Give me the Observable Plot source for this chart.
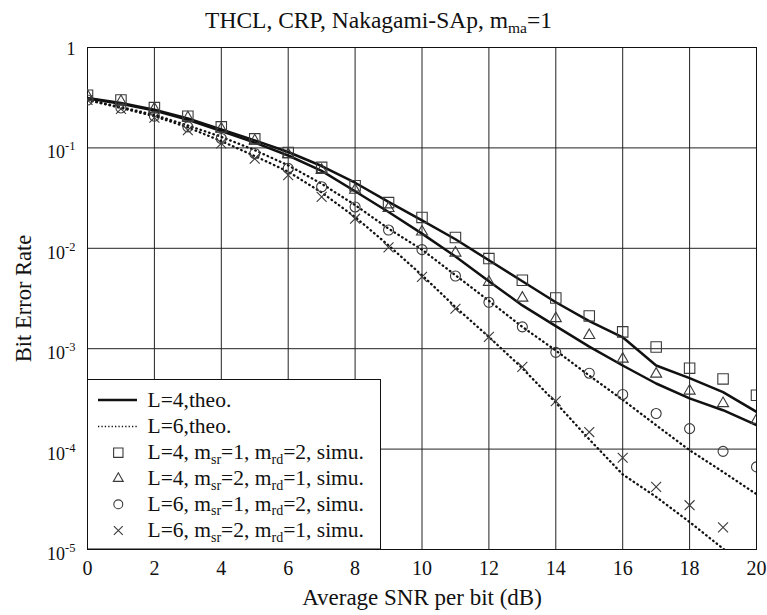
<!DOCTYPE html>
<html><head><meta charset="utf-8">
<script src="https://cdn.jsdelivr.net/npm/d3@7"></script>
<script src="https://cdn.jsdelivr.net/npm/@observablehq/plot@0.6"></script>
<style>
body{margin:0;background:#fff;}
#wrap{position:relative;width:767px;height:615px;font-family:"Liberation Serif","Times New Roman",serif;color:#111;}
#title{position:absolute;left:0;top:8.5px;width:757px;text-align:center;font-size:23.5px;line-height:23px;white-space:nowrap;}
#title sub{font-size:15.5px;vertical-align:-5px;line-height:0;}
#chart{position:absolute;left:0;top:0;}
</style></head>
<body>
<div id="wrap">
  <div id="chart"></div>
  <div id="title">THCL, CRP, Nakagami-SAp, m<sub>ma</sub>=1</div>
</div>
<script>
// ---- data ----
const snr = [0,1,2,3,4,5,6,7,8,9,10,11,12,13,14,15,16,17,18,19,20];
const xTicks = [0,2,4,6,8,10,12,14,16,18,20];
const yTicks = [1e-5,1e-4,1e-3,1e-2,1e-1,1];
const yTickLabels = ["10^-5","10^-4","10^-3","10^-2","10^-1","1"];

// theory curves
const theoL4a = [0.315,0.28,0.24,0.196,0.153,0.119,0.091,0.066,0.045,0.029,0.019,0.0123,0.0076,0.0047,0.0029,0.00188,0.0013,0.00068,0.00051,0.00037,0.000235];
const theoL4b = [0.31,0.275,0.235,0.19,0.147,0.113,0.084,0.059,0.037,0.023,0.0140,0.0083,0.0047,0.0027,0.00168,0.00105,0.00068,0.00045,0.00032,0.000244,0.000173];
const theoL6a = [0.30,0.255,0.213,0.167,0.129,0.095,0.067,0.044,0.027,0.0157,0.0097,0.0054,0.0030,0.00165,0.00096,0.00054,0.00031,0.000173,0.0000975,0.0000593,0.0000356];
const theoL6b = [0.30,0.25,0.207,0.16,0.117,0.083,0.058,0.036,0.0205,0.0107,0.0054,0.0026,0.00131,0.00064,0.00029,0.000125,0.000056,0.0000334,0.0000188,0.0000102,0.0000058];

// simulation points
const simL4a = [0.335,0.30,0.252,0.207,0.162,0.123,0.090,0.064,0.042,0.0285,0.0203,0.0128,0.0079,0.0048,0.0032,0.00212,0.00147,0.00104,0.00064,0.0005,0.000344];
const simL4b = [0.33,0.29,0.245,0.20,0.155,0.118,0.086,0.060,0.038,0.025,0.0146,0.009,0.0046,0.0032,0.002,0.00136,0.00079,0.00056,0.00038,0.000285,0.000194];
const simL6a = [0.30,0.25,0.207,0.162,0.124,0.088,0.0625,0.041,0.0258,0.0152,0.0097,0.0053,0.0029,0.00165,0.00092,0.00057,0.00035,0.000226,0.00016,0.000095,0.0000665];
const simL6b = [0.30,0.245,0.20,0.15,0.111,0.078,0.0536,0.0325,0.0197,0.0102,0.0052,0.0025,0.00131,0.00066,0.0003,0.000148,0.000082,0.000042,0.0000276,0.0000166];

const legendLabels = ["L=4,theo.","L=6,theo.","L=4, m_{sr}=1, m_{rd}=2, simu.","L=4, m_{sr}=2, m_{rd}=1, simu.","L=6, m_{sr}=1, m_{rd}=2, simu.","L=6, m_{sr}=2, m_{rd}=1, simu."];

// ---- styles ----
const FONT = "'Liberation Serif','Times New Roman',serif";
const solidStyle = {stroke:"#111", strokeWidth:2.5};
const dotStyle = {stroke:"#111", strokeWidth:2.3, strokeDasharray:"0.6,3.9", strokeLinecap:"round"};
const markerStroke = "#3a3a3a";
const symbols = [
  {symbol:"square", r:5.9},
  {symbol:"triangle", r:4.1},
  {symbol:"circle", r:5},
  {symbol:"times", r:4.6}
];

const rows = (vals) => vals.map((v,i)=>({snr:snr[i], ber:v}));
const sims = [simL4a, simL4b, simL6a, simL6b];

const chart = Plot.plot({
  width:767, height:615,
  marginTop:47, marginBottom:66, marginLeft:87, marginRight:11,
  style:{fontFamily:FONT, fontSize:"18px", background:"#fff", color:"#111", overflow:"visible"},
  x:{domain:[0,20]},
  y:{type:"log", domain:[1e-5,1]},
  marks:[
    Plot.gridX(xTicks, {stroke:"#222", strokeOpacity:1, strokeWidth:1}),
    Plot.gridY(yTicks, {stroke:"#222", strokeOpacity:1, strokeWidth:1}),
    Plot.frame({stroke:"#111", strokeWidth:1}),
    Plot.axisX(xTicks, {tickSize:0, tickPadding:11, label:null, fontSize:20}),
    Plot.axisY(yTicks, {tickSize:0, tickPadding:12, label:null, fontSize:18,
      tickFormat:(d)=>yTickLabels[yTicks.indexOf(d)]}),
    Plot.line(rows(theoL4a), {x:"snr", y:"ber", ...solidStyle, clip:true}),
    Plot.line(rows(theoL4b), {x:"snr", y:"ber", ...solidStyle, clip:true}),
    Plot.line(rows(theoL6a), {x:"snr", y:"ber", ...dotStyle, clip:true}),
    Plot.line(rows(theoL6b), {x:"snr", y:"ber", ...dotStyle, clip:true}),
    ...sims.map((s,k)=>Plot.dot(rows(s), {x:"snr", y:"ber", symbol:symbols[k].symbol, r:symbols[k].r,
      fill:"none", stroke:markerStroke, strokeWidth:1.1, clip:true})),
    Plot.text(["Bit Error Rate"], {frameAnchor:"left", dx:-64, rotate:-90, textAnchor:"middle", lineAnchor:"middle", fontSize:22.5}),
    Plot.text(["Average SNR per bit (dB)"], {frameAnchor:"bottom", dy:48, textAnchor:"middle", lineAnchor:"middle", fontSize:23})
  ]
});
document.getElementById("chart").appendChild(chart);

// superscript y tick labels
d3.select(chart).selectAll('g[aria-label="y-axis tick label"] text').each(function(){
  const s = this.textContent;
  const m = s.match(/^10\^(.*)$/);
  const t = d3.select(this);
  t.text(null);
  if (m) {
    t.append("tspan").attr("dy","4.7px").text("10");
    t.append("tspan").attr("dy","-8px").attr("font-size","12.5px").text(m[1]);
  } else {
    t.append("tspan").attr("dy","2px").text(s);
  }
});

// legend (inside the plot frame, lower-left)
const svg = d3.select(chart);
const lg = svg.append("g").attr("font-family", FONT).attr("font-size", 21.5).attr("fill","#111").attr("text-anchor","start");
const lx0 = 87, ly0 = 379.5, lx1 = 380.5, ly1 = 549;
lg.append("rect").attr("x",lx0+0.5).attr("y",ly0).attr("width",lx1-lx0-0.5).attr("height",ly1-ly0)
  .attr("fill","#fff").attr("stroke","#111").attr("stroke-width",1);
const rowY = [400,426.5,452.7,478.5,504.3,530.5];
legendLabels.forEach((lab,i)=>{
  const cy = rowY[i];
  if (i===0) lg.append("line").attr("x1",98).attr("x2",137).attr("y1",cy).attr("y2",cy).attr("stroke","#111").attr("stroke-width",2.5);
  else if (i===1) lg.append("line").attr("x1",98).attr("x2",137).attr("y1",cy).attr("y2",cy).attr("stroke","#111").attr("stroke-width",1.5).attr("stroke-dasharray","1.3,2.1");
  else {
    const sy = symbols[i-2];
    const sym = {square:d3.symbolSquare, triangle:d3.symbolTriangle, circle:d3.symbolCircle, times:d3.symbolTimes}[sy.symbol];
    lg.append("path").attr("transform",`translate(118.3,${cy})`)
      .attr("d", d3.symbol(sym, Math.PI*sy.r*sy.r*0.8)())
      .attr("fill","none").attr("stroke",markerStroke).attr("stroke-width",1.1);
  }
  const t = lg.append("text").attr("x",147.5).attr("y",cy+6.5);
  let sub = false;
  lab.split(/(_\{[^}]*\})/).forEach(part=>{
    if (!part) return;
    const m = part.match(/^_\{(.*)\}$/);
    if (m) { t.append("tspan").attr("font-size",14).attr("dy",4.5).text(m[1]); sub = true; }
    else {
      const sp = t.append("tspan").text(part);
      if (sub) { sp.attr("dy",-4.5); sub = false; }
    }
  });
});
</script>
</body></html>
